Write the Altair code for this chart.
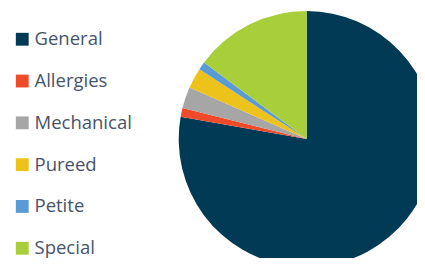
import altair as alt
import pandas as pd

categories = ["General", "Allergies", "Mechanical", "Pureed", "Petite", "Special"]
values = [77.7, 1.1, 2.7, 2.6, 1.0, 14.8]
colors = ["#003A54", "#EE4B2B", "#A6A6A6", "#EDC21B", "#5B9BD5", "#A8CE3A"]

df = pd.DataFrame({"category": categories, "value": values, "order": list(range(len(categories)))})

chart = alt.Chart(df).mark_arc(outerRadius=128, stroke=None).encode(
    theta=alt.Theta("value:Q", stack=True),
    order=alt.Order("order:Q"),
    color=alt.Color(
        "category:N",
        sort=categories,
        scale=alt.Scale(domain=categories, range=colors),
        legend=alt.Legend(
            title=None,
            orient="none",
            legendX=5,
            legendY=22,
            symbolType="square",
            symbolSize=165,
            symbolStrokeWidth=0,
            labelFontSize=18.5,
            labelFont="Open Sans",
            labelColor="#46546A",
            labelOffset=3,
            rowPadding=22.8,
        ),
    ),
    x=alt.value(298.7),
    y=alt.value(131),
).properties(
    width=409,
    height=250,
    padding=0,
    autosize=alt.AutoSizeParams(type="none"),
).configure_view(stroke=None)

chart.save("out.html", embed_options={"renderer": "svg", "actions": False})
